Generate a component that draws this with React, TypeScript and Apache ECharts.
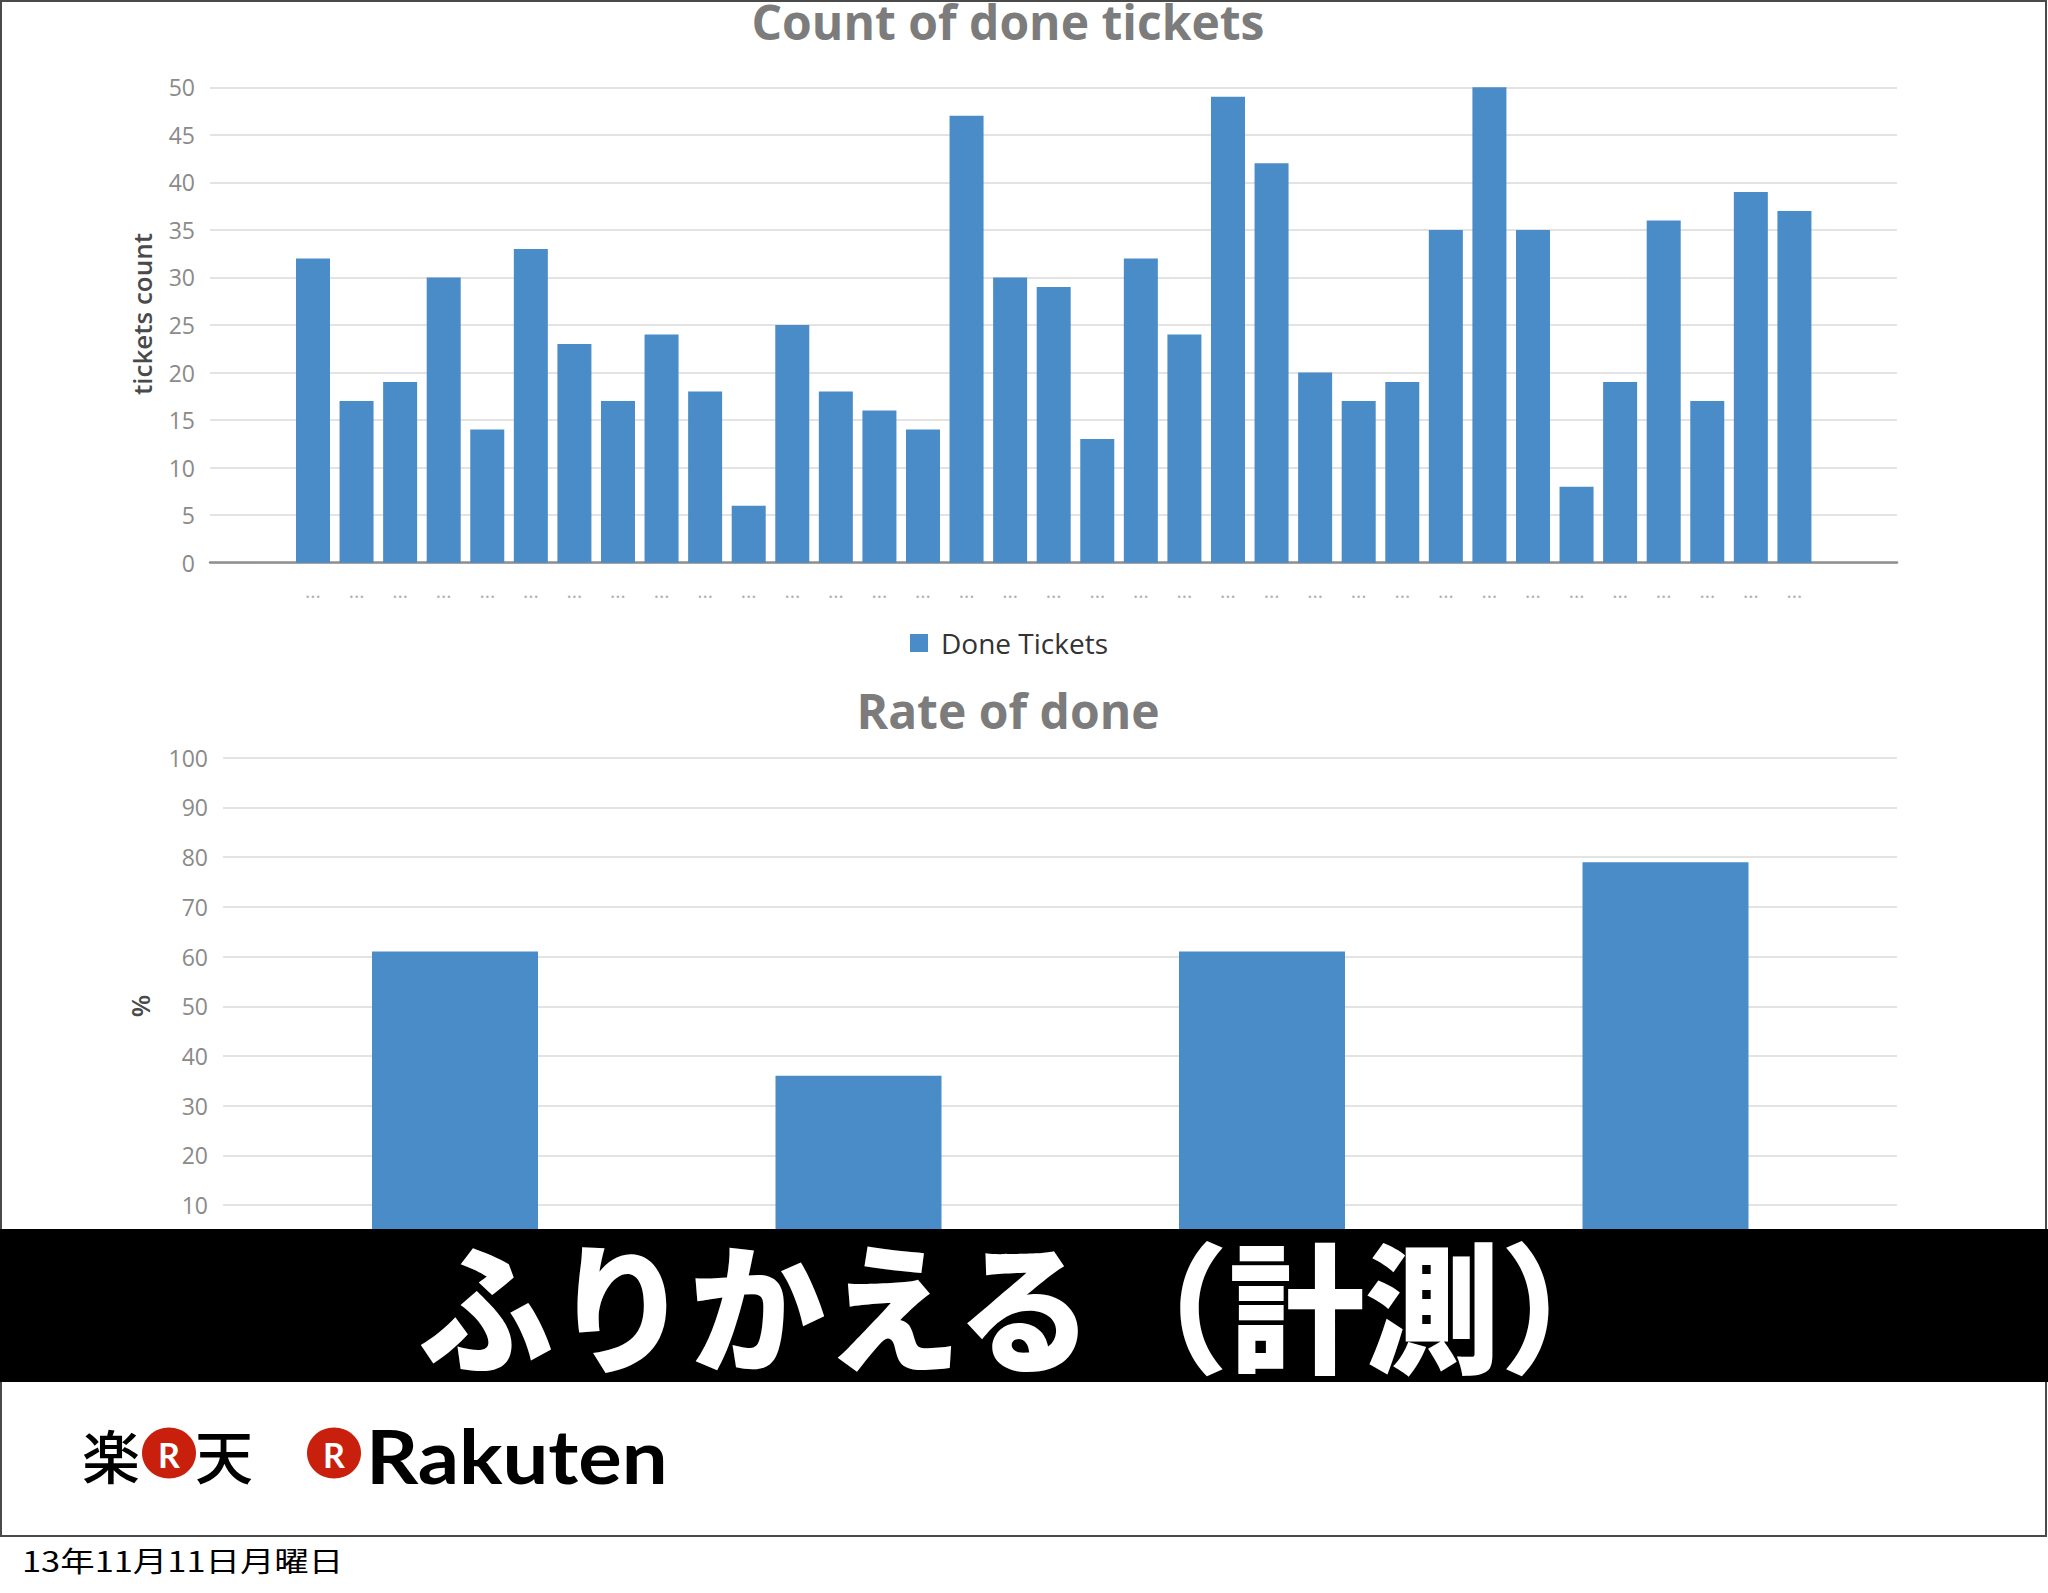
import React, { useEffect, useRef } from "react";
import * as echarts from "echarts";

// ---- data ----
const ticketLabels = [
  "...", "...", "...", "...", "...", "...", "...", "...", "...", "...",
  "...", "...", "...", "...", "...", "...", "...", "...", "...", "...",
  "...", "...", "...", "...", "...", "...", "...", "...", "...", "...",
  "...", "...", "...", "...", "...",
];
const doneTickets = [
  32, 17, 19, 30, 14, 33, 23, 17, 24, 18, 6, 25, 18, 16, 14, 47, 30, 29, 13, 32,
  24, 49, 42, 20, 17, 19, 35, 50, 35, 8, 19, 36, 17, 39, 37,
];
const rateCategories = ["1", "2", "3", "4"];
const rateOfDone = [61, 36, 61, 79];

const countAxis = { min: 0, max: 50, interval: 5 };
const rateAxis = { min: 0, max: 100, interval: 10 };

const titleCount = "Count of done tickets";
const titleRate = "Rate of done";
const legendName = "Done Tickets";
const countAxisName = "tickets count";
const rateAxisName = "%";
const bannerText = "ふりかえる（計測）";
const dateText = "13年11月11日月曜日";

const BAR = "#4a8cc8";
const GRID = "#dadada";
const FONT = "Open Sans";

export default function App() {
  const ref = useRef<HTMLDivElement>(null);

  useEffect(() => {
    if (!ref.current) return;
    const chart = echarts.init(ref.current, null, { renderer: "svg" });

    const tickLabel = { color: "#8a8a8a", fontSize: 23, fontFamily: FONT, margin: 15 };

    const option: any = {
      animation: false,
      backgroundColor: "#ffffff",
      title: [
        {
          text: titleCount,
          left: 1008,
          textAlign: "center",
          top: 2,
          padding: 0,
          textStyle: {
            fontSize: 48,
            lineHeight: 38,
            fontWeight: "bold",
            color: "#7c7c7c",
            fontFamily: FONT,
          },
        },
        {
          text: titleRate,
          left: 1008,
          textAlign: "center",
          top: 691,
          padding: 0,
          textStyle: {
            fontSize: 48,
            lineHeight: 38,
            fontWeight: "bold",
            color: "#7c7c7c",
            fontFamily: FONT,
          },
        },
      ],
      legend: {
        data: [legendName],
        left: 905,
        top: 624,
        icon: "rect",
        itemWidth: 18,
        itemHeight: 18,
        selectedMode: false,
        textStyle: { fontSize: 28, color: "#333333", fontFamily: FONT, padding: [0, 0, 0, 8] },
      },
      grid: [
        { left: 210, right: 151, top: 87.3, height: 475.4 },
        { left: 291.2, right: 231.8, top: 87.3, height: 475.4 },
        { left: 223, right: 151, top: 757.8, height: 496.9 },
        { left: 253.25, right: 180.75, top: 757.8, height: 496.9 },
      ],
      xAxis: [
        {
          gridIndex: 0,
          type: "value",
          min: 0,
          max: 1,
          axisLabel: { show: false },
          axisTick: { show: false },
          splitLine: { show: false },
          axisLine: { show: true, lineStyle: { color: "#8f8f8f", width: 2.5 } },
        },
        {
          gridIndex: 1,
          type: "category",
          data: ticketLabels,
          axisLine: { show: false },
          axisTick: { show: false },
          axisLabel: { color: "#b0b0b0", fontSize: 20, fontFamily: FONT, margin: 18, interval: 0 },
        },
        {
          gridIndex: 2,
          type: "value",
          min: 0,
          max: 1,
          show: false,
        },
        {
          gridIndex: 3,
          type: "category",
          data: rateCategories,
          show: false,
        },
      ],
      yAxis: [
        {
          gridIndex: 0,
          type: "value",
          ...countAxis,
          axisLine: { show: false },
          axisTick: { show: false },
          axisLabel: tickLabel,
          splitLine: { show: true, lineStyle: { color: GRID, width: 1.5 } },
        },
        { gridIndex: 1, type: "value", ...countAxis, show: false, splitLine: { show: false } },
        {
          gridIndex: 2,
          type: "value",
          ...rateAxis,
          axisLine: { show: false },
          axisTick: { show: false },
          axisLabel: { ...tickLabel, showMinLabel: false },
          splitLine: { show: true, lineStyle: { color: GRID, width: 1.5 } },
        },
        { gridIndex: 3, type: "value", ...rateAxis, show: false, splitLine: { show: false } },
      ],
      series: [
        {
          name: legendName,
          type: "bar",
          xAxisIndex: 1,
          yAxisIndex: 1,
          data: doneTickets,
          barWidth: 34,
          itemStyle: { color: BAR },
        },
        {
          name: titleRate,
          type: "bar",
          xAxisIndex: 3,
          yAxisIndex: 3,
          data: rateOfDone,
          barWidth: 166,
          itemStyle: { color: BAR },
        },
      ],
      graphic: [
        {
          type: "rect",
          z: 90,
          shape: { x: 1, y: 1, width: 2045, height: 1535 },
          style: { fill: "none", stroke: "#4a4a4a", lineWidth: 2 },
        },
        {
          type: "text",
          x: 142,
          y: 314,
          rotation: Math.PI / 2,
          style: {
            text: countAxisName,
            fontSize: 26,
            fontWeight: 600,
            fontFamily: FONT,
            fill: "#4a4a4a",
            align: "center",
            verticalAlign: "middle",
          },
        },
        {
          type: "text",
          x: 140,
          y: 1006,
          rotation: Math.PI / 2,
          style: {
            text: rateAxisName,
            fontSize: 26,
            fontWeight: 600,
            fontFamily: FONT,
            fill: "#4a4a4a",
            align: "center",
            verticalAlign: "middle",
          },
        },
        {
          type: "rect",
          z: 100,
          shape: { x: 0, y: 1229, width: 2048, height: 153 },
          style: { fill: "#000000" },
        },
        {
          type: "text",
          z: 101,
          x: 1027,
          y: 1301,
          scaleX: 0.97,
          style: {
            text: bannerText,
            fontSize: 140,
            fontWeight: 900,
            fontFamily: "Noto Sans CJK JP",
            fill: "#ffffff",
            align: "center",
            verticalAlign: "middle",
          },
        },
        // Rakuten logos
        {
          type: "text",
          x: 111,
          y: 1454,
          style: {
            text: "楽",
            fontSize: 58,
            fontWeight: 500,
            fontFamily: "Noto Sans CJK JP",
            fill: "#000000",
            align: "center",
            verticalAlign: "middle",
          },
        },
        {
          type: "ellipse",
          shape: { cx: 169, cy: 1453, rx: 27, ry: 25.5 },
          style: { fill: "#c9200e" },
        },
        {
          type: "text",
          x: 169,
          y: 1454,
          style: {
            text: "R",
            fontSize: 34,
            fontWeight: "bold",
            fontFamily: "Lato",
            fill: "#ffffff",
            align: "center",
            verticalAlign: "middle",
          },
        },
        {
          type: "text",
          x: 224,
          y: 1454,
          style: {
            text: "天",
            fontSize: 58,
            fontWeight: 500,
            fontFamily: "Noto Sans CJK JP",
            fill: "#000000",
            align: "center",
            verticalAlign: "middle",
          },
        },
        {
          type: "ellipse",
          shape: { cx: 334, cy: 1453, rx: 27, ry: 25.5 },
          style: { fill: "#c9200e" },
        },
        {
          type: "text",
          x: 334,
          y: 1454,
          style: {
            text: "R",
            fontSize: 34,
            fontWeight: "bold",
            fontFamily: "Lato",
            fill: "#ffffff",
            align: "center",
            verticalAlign: "middle",
          },
        },
        {
          type: "text",
          x: 366,
          y: 1455,
          scaleX: 1.1,
          style: {
            text: "Rakuten",
            fontSize: 74,
            fontWeight: "bold",
            fontFamily: "Lato",
            fill: "#000000",
            align: "left",
            verticalAlign: "middle",
          },
        },
        {
          type: "text",
          x: 22,
          y: 1560,
          scaleX: 1.23,
          style: {
            text: dateText,
            fontSize: 28,
            fontFamily: "Noto Sans CJK JP",
            fill: "#000000",
            align: "left",
            verticalAlign: "middle",
          },
        },
      ],
    };

    chart.setOption(option);
    return () => chart.dispose();
  }, []);

  return (
    <div
      ref={ref}
      style={{ position: "absolute", left: 0, top: 0, width: 2048, height: 1593 }}
    />
  );
}
